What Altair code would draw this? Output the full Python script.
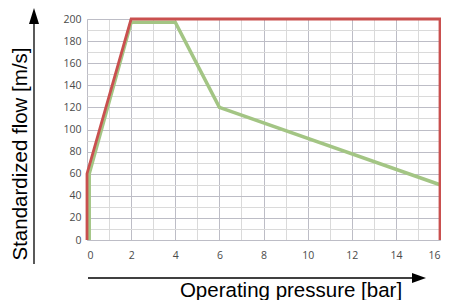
import altair as alt
import pandas as pd

# Data
red_x = [0, 0, 2, 16, 16]
red_y = [0, 60, 200, 200, 0]
green_x = [0.1, 0.1, 2, 4, 6, 16]
green_y = [0, 60, 197, 197, 120, 50]
x_ticks = list(range(0, 17))
y_ticks = list(range(0, 201, 10))

red = pd.DataFrame({"p": red_x, "f": red_y, "o": range(len(red_x))})
green = pd.DataFrame({"p": green_x, "f": green_y, "o": range(len(green_x))})

W, H = 353, 221
FONT_LBL = "Open Sans"
FONT_TTL = "Liberation Sans"

xs = alt.Scale(domain=[0, 16], nice=False, zero=False)
ys = alt.Scale(domain=[0, 200], nice=False)

xaxis = alt.Axis(
    values=x_ticks, title=None, domain=False, ticks=False, labelOverlap=False,
    labelExpr="datum.value % 2 === 0 ? datum.label : ''",
    labelFont=FONT_LBL, labelFontSize=10.5, labelColor="#4a4a4a", labelPadding=10,
    gridColor={"expr": "datum.value % 2 === 0 ? '#bdbdc6' : '#dadada'"}, gridWidth=1,
)
yaxis = alt.Axis(
    values=y_ticks, title=None, domain=False, ticks=False, labelOverlap=False,
    labelExpr="datum.value % 20 === 0 ? datum.label : ''",
    labelFont=FONT_LBL, labelFontSize=10.5, labelColor="#4a4a4a", labelPadding=6,
    gridColor={"expr": "datum.value % 20 === 0 ? '#bdbdc6' : '#dadada'"}, gridWidth=1,
)

green_line = alt.Chart(green).mark_line(color="#a3c584", strokeWidth=3.5, clip=False).encode(
    x=alt.X("p:Q", scale=xs, axis=xaxis),
    y=alt.Y("f:Q", scale=ys, axis=yaxis),
    order="o:O",
)
red_line = alt.Chart(red).mark_line(color="#c9504f", strokeWidth=2.8, clip=False).encode(
    x=alt.X("p:Q", scale=xs, axis=xaxis),
    y=alt.Y("f:Q", scale=ys, axis=yaxis),
    order="o:O",
)

one = alt.Data(values=[{"a": 1}])

v_line = alt.Chart(one).mark_rule(color="black", strokeWidth=1.3).encode(
    x=alt.value(-53), y=alt.value(4), y2=alt.value(245))
v_head = alt.Chart(one).mark_point(
    shape="M0,-1L0.625,1L-0.625,1Z", filled=True, color="black", opacity=1, size=256
).encode(x=alt.value(-53), y=alt.value(-3))
h_line = alt.Chart(one).mark_rule(color="black", strokeWidth=1.3).encode(
    x=alt.value(1), x2=alt.value(327), y=alt.value(259))
h_head = alt.Chart(one).mark_point(
    shape="M1,0L-1,0.714L-1,-0.714Z", filled=True, color="black", opacity=1, size=196
).encode(x=alt.value(332), y=alt.value(259))

y_title = alt.Chart(one).mark_text(
    text="Standardized flow [m/s]", font=FONT_TTL, fontSize=20.5, angle=270,
    align="center", baseline="middle", color="black"
).encode(x=alt.value(-66), y=alt.value(135))
x_title = alt.Chart(one).mark_text(
    text="Operating pressure [bar]", font=FONT_TTL, fontSize=20.5,
    align="center", baseline="alphabetic", color="black"
).encode(x=alt.value(204), y=alt.value(278))

chart = alt.layer(
    green_line, red_line, v_line, v_head, h_line, h_head, y_title, x_title
).properties(
    width=W, height=H,
    autosize=alt.AutoSizeParams(type="none"),
    padding={"left": 79, "top": 11, "right": 1, "bottom": 60},
).configure_view(stroke=None).configure(background="white")

chart.save("out.html", embed_options={"renderer": "svg", "actions": False})
